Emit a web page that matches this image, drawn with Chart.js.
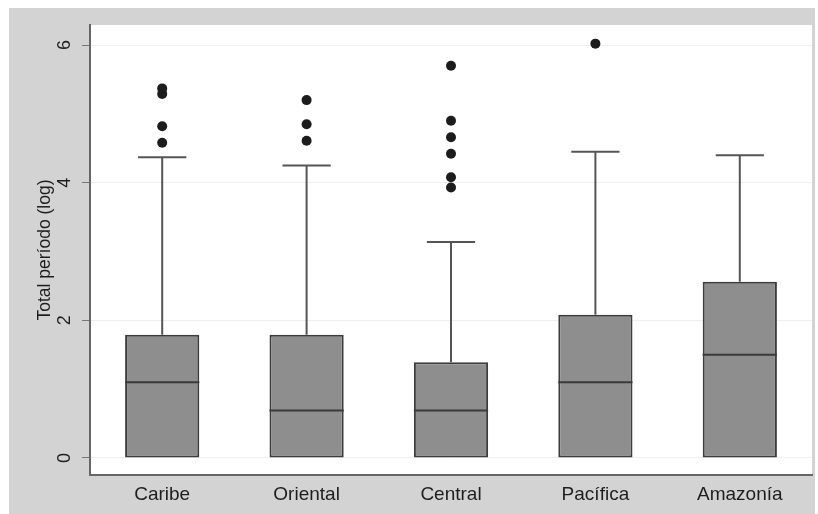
<!DOCTYPE html>
<html>
<head>
<meta charset="utf-8">
<script src="https://cdn.jsdelivr.net/npm/chart.js@4"></script>
<style>
  body { margin: 0; background: #fff; }
  #wrap { width: 818px; height: 514px; }
</style>
</head>
<body>
<div id="wrap"><canvas id="boxChart" width="818" height="514"></canvas></div>
<script>
/* datos del boxplot (log del total por región) */
const regiones = ['Caribe', 'Oriental', 'Central', 'Pacífica', 'Amazonía'];
const q1 = [0, 0, 0, 0, 0];
const mediana = [1.10, 0.69, 0.69, 1.10, 1.50];
const q3 = [1.79, 1.79, 1.39, 2.08, 2.56];
const bigoteInf = [0, 0, 0, 0, 0];
const bigoteSup = [4.37, 4.25, 3.14, 4.45, 4.40];
const atipicos = [
  [5.37, 5.29, 4.82, 4.58],
  [5.20, 4.85, 4.61],
  [5.70, 4.90, 4.66, 4.42, 4.08, 3.93],
  [6.02],
  []
];
const yTicks = [0, 2, 4, 6];

const puntos = [];
atipicos.forEach((vals, i) => {
  vals.forEach(v => puntos.push({ x: regiones[i], y: v }));
});

const fondo = {
  id: 'fondo',
  beforeDraw(chart) {
    const { ctx, chartArea: a } = chart;
    ctx.save();
    ctx.fillStyle = '#fff';
    ctx.fillRect(0, 0, chart.width, chart.height);
    ctx.fillStyle = '#d3d3d3';
    ctx.fillRect(9, 8, 806, 506);
    ctx.fillStyle = '#fff';
    ctx.fillRect(a.left, a.top, a.right - a.left, a.bottom - a.top);
    ctx.restore();
  }
};

const cajas = {
  id: 'cajas',
  afterDatasetsDraw(chart) {
    const { ctx } = chart;
    const xs = chart.scales.x, ys = chart.scales.y;
    const meta = chart.getDatasetMeta(0);
    ctx.save();
    regiones.forEach((r, i) => {
      const bar = meta.data[i];
      const half = bar.width / 2;
      const cx = xs.getPixelForValue(i);
      const cap = half * 0.65;
      // bigotes
      ctx.strokeStyle = '#555';
      ctx.lineWidth = 2;
      ctx.beginPath();
      ctx.moveTo(cx, ys.getPixelForValue(q3[i]));
      ctx.lineTo(cx, ys.getPixelForValue(bigoteSup[i]));
      ctx.moveTo(cx - cap, ys.getPixelForValue(bigoteSup[i]));
      ctx.lineTo(cx + cap, ys.getPixelForValue(bigoteSup[i]));
      if (bigoteInf[i] < q1[i]) {
        ctx.moveTo(cx, ys.getPixelForValue(q1[i]));
        ctx.lineTo(cx, ys.getPixelForValue(bigoteInf[i]));
        ctx.moveTo(cx - cap, ys.getPixelForValue(bigoteInf[i]));
        ctx.lineTo(cx + cap, ys.getPixelForValue(bigoteInf[i]));
      }
      ctx.stroke();
      // mediana
      ctx.strokeStyle = '#3a3a3a';
      ctx.beginPath();
      ctx.moveTo(cx - half, ys.getPixelForValue(mediana[i]));
      ctx.lineTo(cx + half, ys.getPixelForValue(mediana[i]));
      ctx.stroke();
    });
    ctx.restore();
  }
};

new Chart(document.getElementById('boxChart'), {
  data: {
    labels: regiones,
    datasets: [{
      type: 'bar',
      data: regiones.map((r, i) => [q1[i], q3[i]]),
      backgroundColor: '#8e8e8e',
      borderColor: '#3c3c3c',
      borderWidth: 2,
      borderSkipped: false,
      barPercentage: 0.514,
      categoryPercentage: 1
    }, {
      type: 'line',
      data: puntos,
      showLine: false,
      pointRadius: 5,
      pointBackgroundColor: '#1c1c1c',
      pointBorderColor: '#1c1c1c',
      pointBorderWidth: 0
    }]
  },
  options: {
    responsive: false,
    animation: false,
    layout: { padding: { left: 9, top: 25, right: 6, bottom: 1 } },
    plugins: { legend: { display: false }, tooltip: { enabled: false } },
    scales: {
      x: {
        type: 'category',
        offset: true,
        grid: { display: false, drawTicks: false },
        border: { display: true, color: '#666', width: 2 },
        ticks: {
          color: '#1e1e1e',
          padding: 8,
          font: { family: 'Liberation Sans', size: 19 }
        },
        afterFit(s) { s.height = 38; }
      },
      y: {
        min: -0.247,
        max: 6.291,
        afterBuildTicks(s) { s.ticks = yTicks.map(v => ({ value: v })); },
        grid: { color: '#eaf2ef', lineWidth: 1, tickLength: 8, tickColor: '#777', tickWidth: 1 },
        border: { display: true, color: '#666', width: 2 },
        ticks: {
          color: '#1e1e1e',
          padding: 12,
          minRotation: 90,
          maxRotation: 90,
          crossAlign: 'center',
          font: { family: 'Liberation Sans', size: 18 }
        },
        title: {
          display: true,
          text: 'Total período (log)',
          color: '#1e1e1e',
          padding: { top: 26, bottom: 0 },
          font: { family: 'Liberation Sans', size: 17.5 }
        },
        afterFit(s) { s.width = 81; }
      }
    }
  },
  plugins: [fondo, cajas]
});
</script>
</body>
</html>
